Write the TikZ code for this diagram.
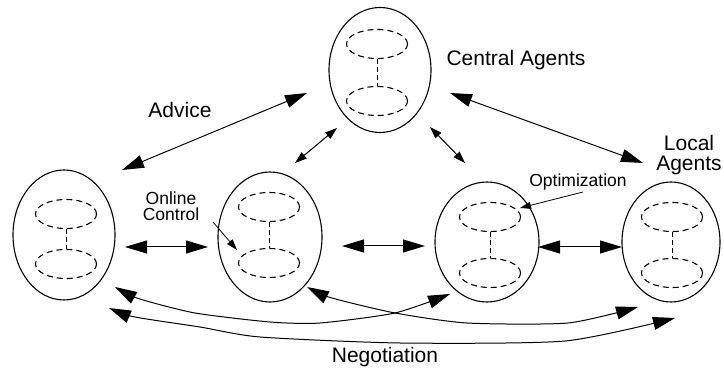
\documentclass[tikz,border=0pt]{standalone}
\usepackage{fontspec}
\setmainfont{Liberation Sans}
\usetikzlibrary{shapes.geometric,arrows.meta}
\begin{document}
\begin{tikzpicture}[x=1pt,y=-1pt,
  shell/.style={ellipse, draw, line width=1.1pt, inner sep=0pt},
  store/.style={ellipse, draw, line width=1.1pt, dash pattern=on 6pt off 4pt,
    inner sep=0pt, minimum width=61pt, minimum height=29pt},
  link/.style={line width=1pt, dash pattern=on 5pt off 3pt},
  bigarrow/.style={line width=1pt,
    arrows={Triangle[length=22pt,width=13pt]-Triangle[length=22pt,width=13pt]}},
  smallarrow/.style={line width=1pt,
    arrows={Triangle[length=12pt,width=8pt]-Triangle[length=12pt,width=8pt]}},
  pointer/.style={line width=0.8pt, arrows={-Triangle[length=11pt,width=7pt]}},
  bigtext/.style={font=\fontsize{21}{20}\selectfont, align=center, inner sep=0pt, anchor=base},
  smalltext/.style={font=\fontsize{17.5}{16}\selectfont, align=center, inner sep=0pt, anchor=base}]
\useasboundingbox (0,0) rectangle (724,371);

% agent shells
\node[shell, minimum width=102pt, minimum height=125pt] (ca) at (380,70) {};
\node[shell, minimum width=102pt, minimum height=130pt] (a1) at (64,235) {};
\node[shell, minimum width=104pt, minimum height=130pt] (a2) at (270,237) {};
\node[shell, minimum width=104pt, minimum height=120pt] (a3) at (487,242) {};
\node[shell, minimum width=98pt, minimum height=120pt] (a4) at (671,242) {};

% inner stores with their links
\node[store] (ca-t) at (377,44) {};
\node[store] (ca-b) at (377,101) {};
\draw[link] (ca-t.south) -- (ca-b.north);
\node[store] (a1-t) at (66,214) {};
\node[store] (a1-b) at (66,264) {};
\draw[link] (a1-t.south) -- (a1-b.north);
\node[store] (a2-t) at (269,207) {};
\node[store] (a2-b) at (269,263) {};
\draw[link] (a2-t.south) -- (a2-b.north);
\node[store] (a3-t) at (490,217) {};
\node[store] (a3-b) at (490,273) {};
\draw[link] (a3-t.south) -- (a3-b.north);
\node[store] (a4-t) at (672,217) {};
\node[store] (a4-b) at (672,273) {};
\draw[link] (a4-t.south) -- (a4-b.north);

% labels
\node[bigtext] (central) at (516,66) {Central Agents};
\node[bigtext] (advice) at (180,118) {Advice};
\node[bigtext, anchor=center] (local) at (689,155) {Local\\Agents};
\node[smalltext, anchor=center] (online) at (171,206) {Online\\Control};
\node[smalltext] (optim) at (578,187) {Optimization};
\node[bigtext] (nego) at (385,363) {Negotiation};

% arrow end points
\coordinate (adv1) at (122,170);  \coordinate (adv2) at (307,93);
\coordinate (cb1) at (295,163);   \coordinate (cb2) at (337,128);
\coordinate (cc1) at (430,127);   \coordinate (cc2) at (465,163);
\coordinate (cl1) at (450,93);    \coordinate (cl2) at (643,163);
\coordinate (ab1) at (125,247);   \coordinate (ab2) at (208,247);
\coordinate (bc1) at (342,246);   \coordinate (bc2) at (425,246);
\coordinate (cd1) at (538,247);   \coordinate (cd2) at (622,247);
\coordinate (oc1) at (213,222);   \coordinate (oc2) at (237,250);
\coordinate (op1) at (583,192);   \coordinate (op2) at (520,208);

\draw[bigarrow] (adv1) -- (adv2);
\draw[smallarrow] (cb1) -- (cb2);
\draw[smallarrow] (cc1) -- (cc2);
\draw[bigarrow] (cl1) -- (cl2);
\draw[bigarrow] (ab1) -- (ab2);
\draw[bigarrow] (bc1) -- (bc2);
\draw[bigarrow] (cd1) -- (cd2);
\draw[pointer] (oc1) -- (oc2);
\draw[pointer] (op1) -- (op2);

% negotiation paths
\coordinate (n1a) at (115,287);  \coordinate (n1b) at (450,294);
\coordinate (n2a) at (307,287);  \coordinate (n2b) at (638,307);
\coordinate (n3a) at (109,308);  \coordinate (n3b) at (675,318);
\draw[bigarrow] plot[smooth, tension=0.4] coordinates
  {(n1a) (140,299) (195,313) (270,322) (320,323) (395,313) (n1b)};
\draw[bigarrow] plot[smooth, tension=0.4] coordinates
  {(n2a) (332,298) (395,313) (467,323) (568,323) (n2b)};
\draw[bigarrow] plot[smooth, tension=0.4] coordinates
  {(n3a) (135,317) (200,327) (260,337) (400,343) (565,341) (n3b)};
\end{tikzpicture}
\end{document}
